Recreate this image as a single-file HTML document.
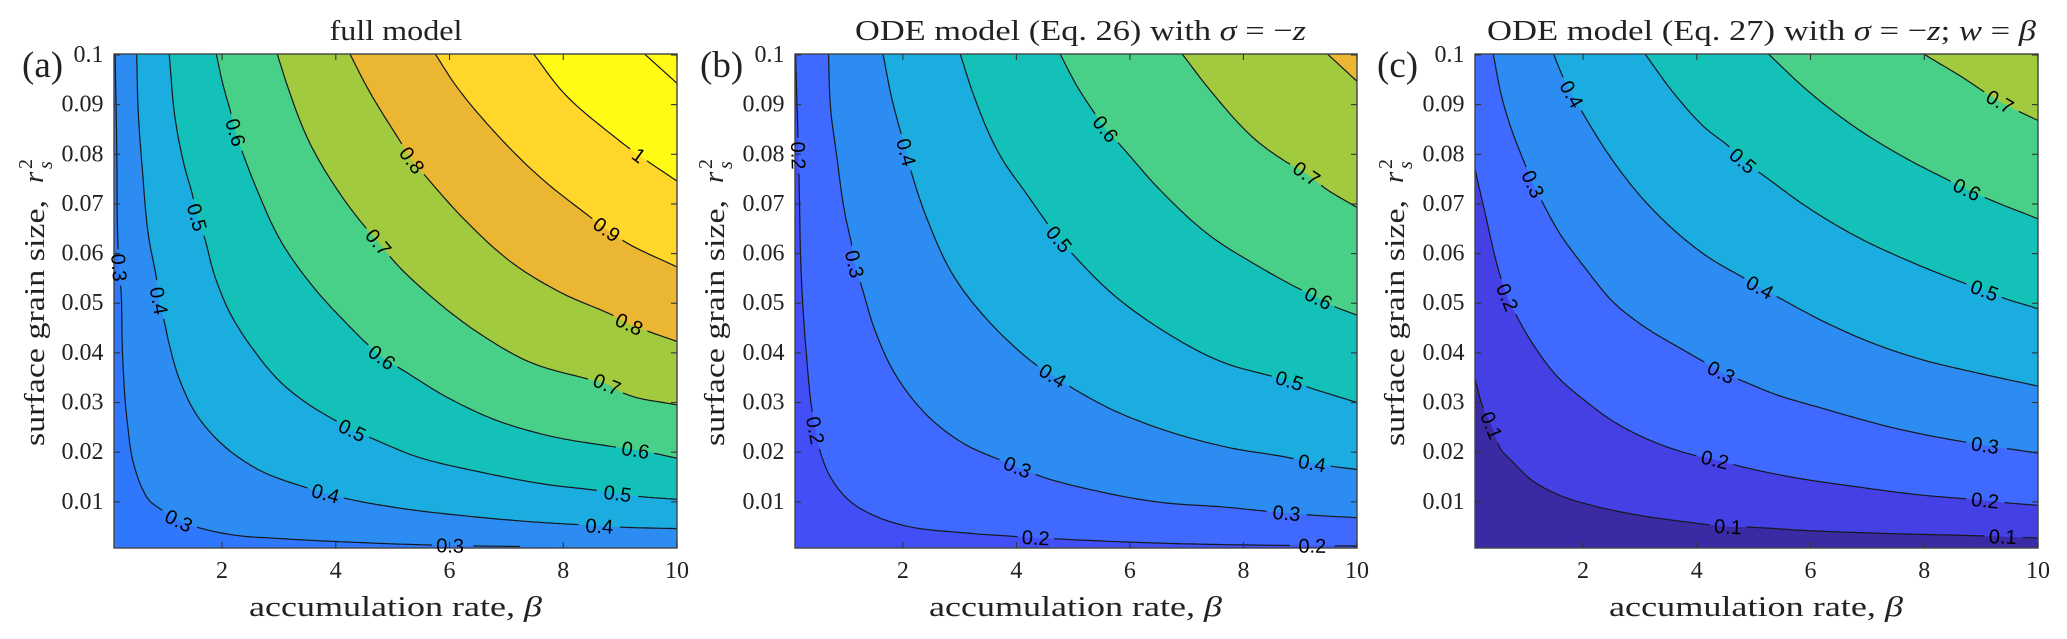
<!DOCTYPE html>
<html lang="en">
<head>
<meta charset="utf-8">
<title>Contour comparison of accumulation rate and surface grain size</title>
<style>
html,body{margin:0;padding:0;background:#fff;width:2067px;height:639px;overflow:hidden}
svg{display:block;filter:blur(0.35px)}
.serif{font-family:"Liberation Serif",serif;fill:#222}
.tick{font-size:24px}
.axis{font-size:29px}
.panel-tag{font-size:37px}
.script{font-size:20px;font-style:italic}
.lab{font-family:"Liberation Sans",sans-serif;font-size:20px;fill:#000}
</style>
</head>
<body>
<svg id="figure" xmlns="http://www.w3.org/2000/svg" width="2067" height="639" viewBox="0 0 2067 639">
<defs>
<clipPath id="clip-a"><rect x="114" y="54" width="563" height="494"/></clipPath>
<clipPath id="clip-b"><rect x="795" y="54" width="562" height="494"/></clipPath>
<clipPath id="clip-c"><rect x="1475" y="54" width="563" height="494"/></clipPath>
</defs>
<g id="panel-a"></g>
<g id="panel-b"></g>
<g id="panel-c"></g>

<text class="serif axis" x="396" y="40" text-anchor="middle" textLength="133" lengthAdjust="spacingAndGlyphs">full model</text>
<text class="serif axis" x="855" y="40" textLength="451" lengthAdjust="spacingAndGlyphs">ODE model (Eq. 26) with <tspan font-style="italic">σ</tspan> = −<tspan font-style="italic">z</tspan></text>
<text class="serif axis" x="1487" y="40" textLength="549" lengthAdjust="spacingAndGlyphs">ODE model (Eq. 27) with <tspan font-style="italic">σ</tspan> = −<tspan font-style="italic">z</tspan>; <tspan font-style="italic">w</tspan> = <tspan font-style="italic">β</tspan></text>

<text class="serif panel-tag" x="22" y="77">(a)</text>
<text class="serif panel-tag" x="700" y="77">(b)</text>
<text class="serif panel-tag" x="1377" y="77">(c)</text>

<text class="serif axis" x="249" y="616" textLength="293" lengthAdjust="spacingAndGlyphs">accumulation rate, <tspan font-style="italic">β</tspan></text>
<text class="serif axis" x="929" y="616" textLength="293" lengthAdjust="spacingAndGlyphs">accumulation rate, <tspan font-style="italic">β</tspan></text>
<text class="serif axis" x="1609" y="616" textLength="294" lengthAdjust="spacingAndGlyphs">accumulation rate, <tspan font-style="italic">β</tspan></text>

<g>
<text class="serif axis" transform="translate(44,446) rotate(-90)" textLength="246" lengthAdjust="spacingAndGlyphs">surface grain size,</text>
<text class="serif axis" font-style="italic" transform="translate(43,183) rotate(-90)">r</text>
<text class="serif script" style="font-style:normal" transform="translate(32,169) rotate(-90)">2</text>
<text class="serif script" transform="translate(52,169) rotate(-90)">s</text>
</g>
<g>
<text class="serif axis" transform="translate(724,446) rotate(-90)" textLength="246" lengthAdjust="spacingAndGlyphs">surface grain size,</text>
<text class="serif axis" font-style="italic" transform="translate(723,183) rotate(-90)">r</text>
<text class="serif script" style="font-style:normal" transform="translate(712,169) rotate(-90)">2</text>
<text class="serif script" transform="translate(732,169) rotate(-90)">s</text>
</g>
<g>
<text class="serif axis" transform="translate(1404,446) rotate(-90)" textLength="246" lengthAdjust="spacingAndGlyphs">surface grain size,</text>
<text class="serif axis" font-style="italic" transform="translate(1403,183) rotate(-90)">r</text>
<text class="serif script" style="font-style:normal" transform="translate(1392,169) rotate(-90)">2</text>
<text class="serif script" transform="translate(1412,169) rotate(-90)">s</text>
</g>
</svg>

<script>
// Shared axis data
const xTicks = [2, 4, 6, 8, 10];
const xTickLabels = ['2', '4', '6', '8', '10'];
const yTicks = [0.01, 0.02, 0.03, 0.04, 0.05, 0.06, 0.07, 0.08, 0.09, 0.1];
const yTickLabels = ['0.01', '0.02', '0.03', '0.04', '0.05', '0.06', '0.07', '0.08', '0.09', '0.1'];
const xDomain = [0.1, 10];
const yDomain = [0.0007, 0.1002];

// Panel (a): full model
const panelALevels = [0.3, 0.4, 0.5, 0.6, 0.7, 0.8, 0.9, 1.0, 1.1];
const panelABeta = [
 [0.12,0.15,0.17,0.19,0.22,0.25,0.33,0.46,0.60,0.71,0.95,1.24,1.56,2.15,3.03,4.20,5.66,6.01,7.24],
 [0.50,0.52,0.60,0.71,0.86,0.89,0.98,1.07,1.27,1.56,2.03,2.62,3.50,3.82,4.17,5.08,6.25,7.42,8.27,9,10],
 [1.07,1.18,1.33,1.49,1.56,1.68,1.86,2.15,2.56,3.03,3.55,3.99,4.29,4.61,5.37,6.54,7.71,8.59,9.32,10],
 [1.90,2.0,2.16,2.24,2.35,2.62,3.03,3.61,4.20,4.55,4.81,5.14,5.95,6.83,7.71,8.88,9.4,10],
 [2.97,3.14,3.55,3.96,4.52,4.75,4.99,5.66,6.54,7.42,8.41,8.74,9.08,10],
 [4.25,4.55,5.16,5.34,5.57,6.25,7.13,8.0,8.88,9.16,9.43,10],
 [5.75,6.07,6.72,7.59,8.47,8.71,9.04,10],
 [7.48,7.95,8.88,9.33,9.47,10],
 [9.43,9.71,10]
];
const panelAR2 = [
 [0.1002,0.0801,0.0616,0.0572,0.0532,0.0398,0.0264,0.017,0.0126,0.0104,0.0083,0.0062,0.0049,0.0034,0.0026,0.0019,0.0013,0.0012,0.001],
 [0.1002,0.0901,0.0767,0.0633,0.0539,0.0505,0.0465,0.0418,0.0341,0.0274,0.0213,0.0166,0.0128,0.0117,0.0107,0.0088,0.0072,0.006,0.0054,0.0049,0.0046],
 [0.1002,0.0868,0.078,0.0713,0.0673,0.0636,0.0559,0.0478,0.0405,0.0341,0.0294,0.0264,0.0244,0.0229,0.0193,0.016,0.0135,0.0123,0.0111,0.0105],
 [0.1002,0.0948,0.0881,0.0844,0.0807,0.0727,0.0626,0.0532,0.0458,0.0418,0.0391,0.0368,0.0311,0.0264,0.0234,0.0211,0.0202,0.0188],
 [0.1002,0.0941,0.0821,0.074,0.0653,0.0623,0.0589,0.0515,0.0438,0.0381,0.0348,0.0338,0.0318,0.0295],
 [0.1002,0.0935,0.0821,0.0788,0.0757,0.067,0.0579,0.0519,0.0475,0.0458,0.0446,0.0423],
 [0.1002,0.0945,0.0854,0.0754,0.0674,0.0653,0.0627,0.0573],
 [0.1002,0.0931,0.0837,0.0798,0.0787,0.0746],
 [0.1002,0.0973,0.0943]
];
const panelALabelLine = [0,0,0,1,1,1,2,2,2,3,3,3,4,4,5,5,6,7];
const panelALabelText = ['0.3','0.3','0.3','0.4','0.4','0.4','0.5','0.5','0.5','0.6','0.6','0.6','0.7','0.7','0.8','0.8','0.9','1'];
const panelALabelBeta = [0.19,1.24,6.01,0.89,3.82,8.61,1.56,4.29,8.95,2.24,4.81,9.29,4.75,8.78,5.34,9.16,8.78,9.33];
const panelALabelR2 = [0.0572,0.0062,0.0012,0.0505,0.0117,0.0051,0.0673,0.0244,0.0115,0.0844,0.0391,0.0203,0.0623,0.0338,0.0788,0.0458,0.0649,0.0798];

// Panel (b): ODE model Eq. 26
const panelBLevels = [0.2, 0.3, 0.4, 0.5, 0.6, 0.7, 0.8];
const panelBBeta = [
 [0.11,0.15,0.17,0.22,0.30,0.40,0.46,0.54,0.71,1.04,1.56,2.03,3.03,4.02,5.95,7.13,8.82,10],
 [0.69,0.73,0.83,0.98,1.10,1.15,1.26,1.51,1.86,2.56,3.14,3.70,4.02,4.34,5.37,6.54,7.71,8.41,9.11,10],
 [1.65,1.80,1.97,2.06,2.16,2.44,2.91,3.50,3.91,4.37,4.64,4.96,5.66,6.54,7.71,8.88,9.21,10],
 [3.01,3.26,3.73,4.20,4.55,4.75,4.99,5.66,6.54,7.71,8.47,8.81,9.11,10],
 [4.77,5.08,5.37,5.57,5.81,6.54,7.41,8.30,8.88,9.32,9.57,10],
 [6.92,7.42,8.30,8.82,9.11,9.42,10],
 [9.48,10]
];
const panelBR2 = [
 [0.1002,0.0841,0.0754,0.0532,0.0398,0.0284,0.0244,0.0203,0.0153,0.0104,0.0069,0.0052,0.0038,0.003,0.0019,0.0015,0.0012,0.0011],
 [0.1002,0.0888,0.0801,0.068,0.0616,0.0579,0.0539,0.0445,0.0358,0.026,0.0213,0.0185,0.017,0.0155,0.0123,0.0099,0.0089,0.0081,0.0074,0.0068],
 [0.1002,0.0915,0.0841,0.0804,0.076,0.0666,0.0552,0.0465,0.0418,0.0374,0.0354,0.0331,0.0287,0.0247,0.021,0.0187,0.0178,0.0165],
 [0.1002,0.0915,0.0794,0.0717,0.066,0.0629,0.0599,0.0522,0.0448,0.0378,0.0354,0.0344,0.0332,0.03],
 [0.1002,0.0935,0.0884,0.0851,0.0821,0.0727,0.0636,0.0572,0.0535,0.051,0.0495,0.0476],
 [0.1002,0.0928,0.0821,0.078,0.0761,0.0733,0.0693],
 [0.1002,0.0947]
];
const panelBLabelLine = [0,0,0,0,1,1,1,2,2,2,3,3,4,4,5];
const panelBLabelText = ['0.2','0.2','0.2','0.2','0.3','0.3','0.3','0.4','0.4','0.4','0.5','0.5','0.6','0.6','0.7'];
const panelBLabelBeta = [0.17,0.46,4.37,9.18,1.15,4.02,8.76,2.06,4.64,9.21,4.75,8.81,5.57,9.32,9.11];
const panelBLabelR2 = [0.0794,0.0244,0.0026,0.0012,0.0579,0.017,0.0078,0.0804,0.0354,0.0178,0.0629,0.0344,0.0851,0.051,0.0761];

// Panel (c): ODE model Eq. 27
const panelCLevels = [0.1, 0.2, 0.3, 0.4, 0.5, 0.6, 0.7];
const panelCBeta = [
 [0.1,0.26,0.39,0.57,0.74,1.07,1.59,2.15,3.03,3.85,4.20,4.55,4.90,5.95,7.13,8.82,9.38,10],
 [0.1,0.28,0.56,0.67,0.83,1.10,1.56,2.03,2.56,3.26,3.99,4.32,4.64,5.66,6.83,8.0,8.74,9.07,9.36,10],
 [0.42,0.58,0.77,0.99,1.12,1.27,1.56,2.03,2.56,3.14,3.73,4.17,4.43,4.75,5.37,6.25,7.42,8.74,9.07,10],
 [1.48,1.65,1.80,1.97,2.44,3.03,3.61,4.20,4.81,5.11,5.43,6.25,7.13,8.0,8.88,10],
 [3.09,3.61,4.14,4.61,4.81,5.14,5.95,6.83,7.71,8.74,9.06,9.36,10],
 [5.26,5.95,6.83,7.71,8.44,8.75,8.98,10],
 [7.99,8.67,9.33,10]
];
const panelCR2 = [
 [0.0348,0.0284,0.0254,0.0203,0.0183,0.0146,0.0113,0.0093,0.0072,0.0059,0.0054,0.005,0.0049,0.0042,0.0037,0.0032,0.003,0.0027],
 [0.077,0.068,0.0549,0.0512,0.0475,0.0421,0.0351,0.0304,0.026,0.022,0.0193,0.0185,0.0175,0.015,0.013,0.0113,0.0106,0.0103,0.0099,0.0093],
 [0.1002,0.0911,0.0841,0.0777,0.074,0.0707,0.0646,0.0572,0.0499,0.0448,0.0408,0.0379,0.0361,0.0346,0.0317,0.0287,0.025,0.022,0.0214,0.0198],
 [0.1002,0.0955,0.0921,0.0888,0.0801,0.0713,0.0646,0.0593,0.0552,0.0532,0.0512,0.0462,0.0418,0.0385,0.0361,0.0333],
 [0.1002,0.0921,0.0854,0.0811,0.0787,0.076,0.0693,0.0633,0.0586,0.0539,0.0526,0.0512,0.0489],
 [0.1002,0.0928,0.0851,0.079,0.0747,0.0729,0.0717,0.067],
 [0.1002,0.0955,0.0906,0.0868]
];
const panelCLabelLine = [0,0,0,1,1,1,2,2,2,3,3,4,4,5,6];
const panelCLabelText = ['0.1','0.1','0.1','0.2','0.2','0.2','0.3','0.3','0.3','0.4','0.4','0.5','0.5','0.6','0.7'];
const panelCLabelBeta = [0.39,4.55,9.38,0.67,4.32,9.07,1.12,4.43,9.07,1.80,5.11,4.81,9.06,8.75,9.33];
const panelCLabelR2 = [0.0254,0.005,0.003,0.0512,0.0185,0.0103,0.074,0.0361,0.0214,0.0921,0.0532,0.0787,0.0526,0.0729,0.0906];

// Band fills (style only): lowest band first
const panelAColors = ['#2f78fe','#2c8cf2','#1bace0','#13c1b9','#49d088','#a2ca3f','#ebb733','#ffd629','#fffb14','#fffb14'];
const panelBColors = ['#424ff6','#3f69ff','#2c8cf2','#1bace0','#13c1b9','#49d088','#a2ca3f','#ebb733'];
const panelCColors = ['#3a2ba5','#4540e3','#3f69ff','#2c8cf2','#1bace0','#13c1b9','#49d088','#a2ca3f'];

const SVGNS = 'http://www.w3.org/2000/svg';
const plotTop = 54;
const plotBottom = 548;

// Chord-length Hermite sampling, so uneven point spacing does not overshoot
function sampleCurve(pts) {
  const out = [];
  const dist = function (a, b) { return Math.max(Math.hypot(b[0] - a[0], b[1] - a[1]), 0.001); };
  const tangent = function (i) {
    if (i <= 0 || i >= pts.length - 1) {
      const a = pts[Math.max(i - 1, 0)];
      const b = pts[Math.min(i + 1, pts.length - 1)];
      const d = dist(a, b);
      return [(b[0] - a[0]) / d, (b[1] - a[1]) / d];
    }
    const a = pts[i - 1];
    const p = pts[i];
    const b = pts[i + 1];
    const h0 = dist(a, p);
    const h1 = dist(p, b);
    return [
      ((p[0] - a[0]) / h0 * h1 + (b[0] - p[0]) / h1 * h0) / (h0 + h1),
      ((p[1] - a[1]) / h0 * h1 + (b[1] - p[1]) / h1 * h0) / (h0 + h1)
    ];
  };
  for (let i = 0; i < pts.length - 1; i++) {
    const p1 = pts[i];
    const p2 = pts[i + 1];
    const h = dist(p1, p2);
    const t1 = tangent(i);
    const t2v = tangent(i + 1);
    const n = 12;
    for (let k = 0; k < n; k++) {
      const t = k / n;
      const t2 = t * t;
      const t3 = t2 * t;
      const a = 2 * t3 - 3 * t2 + 1;
      const b = t3 - 2 * t2 + t;
      const c = -2 * t3 + 3 * t2;
      const d = t3 - t2;
      out.push([
        a * p1[0] + b * h * t1[0] + c * p2[0] + d * h * t2v[0],
        a * p1[1] + b * h * t1[1] + c * p2[1] + d * h * t2v[1]
      ]);
    }
  }
  out.push(pts[pts.length - 1]);
  return out;
}

function fmt(n) { return n.toFixed(1); }

function nearestIndex(curve, x, y) {
  let best = 0;
  let bestD = Infinity;
  curve.forEach(function (p, idx) {
    const dist = Math.hypot(p[0] - x, p[1] - y);
    if (dist < bestD) { bestD = dist; best = idx; }
  });
  return best;
}

function drawPanel(opts) {
  const root = document.getElementById(opts.id);
  const key = opts.key;
  const left = opts.left;
  const right = opts.right;
  const xScale = function (b) { return left + (b - xDomain[0]) / (xDomain[1] - xDomain[0]) * (right - left); };
  const yScale = function (r) { return plotBottom - (r - yDomain[0]) / (yDomain[1] - yDomain[0]) * (plotBottom - plotTop); };

  const plot = document.createElementNS(SVGNS, 'g');
  plot.setAttribute('clip-path', 'url(#clip-' + key + ')');
  
  
  root.appendChild(plot);

  const base = document.createElementNS(SVGNS, 'rect');
  base.setAttribute('x', left);
  base.setAttribute('y', plotTop);
  base.setAttribute('width', right - left);
  base.setAttribute('height', plotBottom - plotTop);
  base.setAttribute('fill', opts.colors[0]);
  
  
  plot.appendChild(base);

  const curves = opts.beta.map(function (line, i) {
    return sampleCurve(line.map(function (b, j) { return [xScale(b), yScale(opts.r2[i][j])]; }));
  });

  // Filled bands, painted lowest to highest
  curves.forEach(function (curve, i) {
    const firstBeta = opts.beta[i][0];
    const firstR = opts.r2[i][0];
    const lastBeta = opts.beta[i][opts.beta[i].length - 1];
    const poly = curve.slice();
    if (lastBeta < xDomain[1]) poly.push([xScale(xDomain[1]), yScale(yDomain[0])]);
    poly.push([xScale(xDomain[1]), yScale(yDomain[1])]);
    if (firstBeta <= xDomain[0] && firstR < yDomain[1]) poly.push([xScale(xDomain[0]), yScale(yDomain[1])]);
    const band = document.createElementNS(SVGNS, 'polygon');
    band.setAttribute('points', poly.map(function (p) { return fmt(p[0]) + ',' + fmt(p[1]); }).join(' '));
    band.setAttribute('fill', opts.colors[i + 1]);
    
    
    plot.appendChild(band);
  });

  // Label placements, snapped onto their contour line
  const placed = opts.labelText.map(function (text, i) {
    const lineIdx = opts.labelLine[i];
    const curve = curves[lineIdx];
    const idx = nearestIndex(curve, xScale(opts.labelBeta[i]), yScale(opts.labelR2[i]));
    return {
      text: text,
      line: lineIdx,
      idx: idx,
      x: curve[idx][0],
      y: curve[idx][1],
      gap: text.length === 1 ? 9 : 18
    };
  });

  // Contour lines with gaps around the labels
  curves.forEach(function (curve, i) {
    const mine = placed.filter(function (l) { return l.line === i; });
    let d = '';
    let pen = false;
    curve.forEach(function (p) {
      const hidden = mine.some(function (l) { return Math.hypot(p[0] - l.x, p[1] - l.y) < l.gap; });
      if (hidden) { pen = false; return; }
      d += (pen ? 'L' : 'M') + fmt(p[0]) + ' ' + fmt(p[1]);
      pen = true;
    });
    const path = document.createElementNS(SVGNS, 'path');
    path.setAttribute('d', d);
    path.setAttribute('fill', 'none');
    path.setAttribute('stroke', '#15181c');
    path.setAttribute('stroke-width', '1.2');
    
    
    plot.appendChild(path);
  });

  // Frame
  const frame = document.createElementNS(SVGNS, 'rect');
  frame.setAttribute('x', left);
  frame.setAttribute('y', plotTop);
  frame.setAttribute('width', right - left);
  frame.setAttribute('height', plotBottom - plotTop);
  frame.setAttribute('fill', 'none');
  frame.setAttribute('stroke', '#404448');
  frame.setAttribute('stroke-width', '1.4');
  
  
  root.appendChild(frame);

  // X ticks and labels
  xTicks.forEach(function (tv, i) {
    const x = xScale(tv);
    [[plotBottom, plotBottom - 6], [plotTop, plotTop + 6]].forEach(function (seg) {
      const t = document.createElementNS(SVGNS, 'line');
      t.setAttribute('x1', x);
      t.setAttribute('x2', x);
      t.setAttribute('y1', seg[0]);
      t.setAttribute('y2', seg[1]);
      t.setAttribute('stroke', '#303438');
      t.setAttribute('stroke-width', '1.1');
      
      
      root.appendChild(t);
    });
    const lab = document.createElementNS(SVGNS, 'text');
    lab.setAttribute('x', x);
    lab.setAttribute('y', 578);
    lab.setAttribute('text-anchor', 'middle');
    lab.setAttribute('class', 'serif tick');
    
    
    lab.textContent = xTickLabels[i];
    root.appendChild(lab);
  });

  // Y ticks and labels
  yTicks.forEach(function (tv, i) {
    const y = yScale(tv);
    [[left, left + 6], [right, right - 6]].forEach(function (seg) {
      const t = document.createElementNS(SVGNS, 'line');
      t.setAttribute('x1', seg[0]);
      t.setAttribute('x2', seg[1]);
      t.setAttribute('y1', y);
      t.setAttribute('y2', y);
      t.setAttribute('stroke', '#303438');
      t.setAttribute('stroke-width', '1.1');
      
      
      root.appendChild(t);
    });
    const lab = document.createElementNS(SVGNS, 'text');
    lab.setAttribute('x', left - 10.5);
    lab.setAttribute('y', y + 7);
    lab.setAttribute('text-anchor', 'end');
    lab.setAttribute('class', 'serif tick');
    
    
    lab.textContent = yTickLabels[i];
    root.appendChild(lab);
  });

  // Contour labels rotated to the local tangent
  placed.forEach(function (l) {
    const curve = curves[l.line];
    const a = curve[Math.max(l.idx - 8, 0)];
    const b = curve[Math.min(l.idx + 8, curve.length - 1)];
    let angle = Math.atan2(b[1] - a[1], b[0] - a[0]) * 180 / Math.PI;
    if (angle > 90) angle -= 180;
    if (angle < -90) angle += 180;
    const txt = document.createElementNS(SVGNS, 'text');
    txt.setAttribute('x', l.x);
    txt.setAttribute('y', l.y);
    txt.setAttribute('dy', '0.35em');
    txt.setAttribute('text-anchor', 'middle');
    txt.setAttribute('class', 'lab');
    txt.setAttribute('transform', 'rotate(' + angle.toFixed(1) + ' ' + l.x.toFixed(1) + ' ' + l.y.toFixed(1) + ')');
    
    
    txt.textContent = l.text;
    root.appendChild(txt);
  });
}

drawPanel({ id: 'panel-a', key: 'a', left: 114, right: 677, levels: panelALevels, beta: panelABeta, r2: panelAR2,
  labelLine: panelALabelLine, labelText: panelALabelText, labelBeta: panelALabelBeta, labelR2: panelALabelR2, colors: panelAColors });
drawPanel({ id: 'panel-b', key: 'b', left: 795, right: 1357, levels: panelBLevels, beta: panelBBeta, r2: panelBR2,
  labelLine: panelBLabelLine, labelText: panelBLabelText, labelBeta: panelBLabelBeta, labelR2: panelBLabelR2, colors: panelBColors });
drawPanel({ id: 'panel-c', key: 'c', left: 1475, right: 2038, levels: panelCLevels, beta: panelCBeta, r2: panelCR2,
  labelLine: panelCLabelLine, labelText: panelCLabelText, labelBeta: panelCLabelBeta, labelR2: panelCLabelR2, colors: panelCColors });
</script>
</body>
</html>
